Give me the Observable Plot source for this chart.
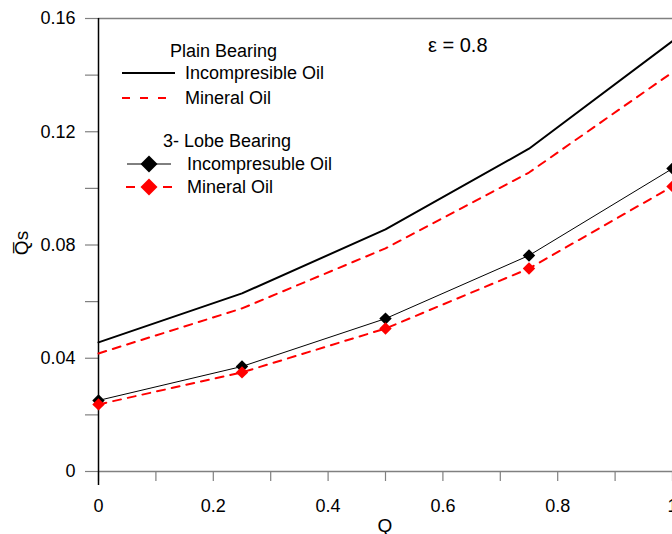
<!DOCTYPE html>
<html><head><meta charset="utf-8">
<script src="https://cdn.jsdelivr.net/npm/d3@7"></script>
<script src="https://cdn.jsdelivr.net/npm/@observablehq/plot@0.6"></script>
<style>
body{margin:0;background:#fff;}
svg{font-family:"Liberation Sans",Arial,sans-serif;}
</style>
</head><body><div id="chart"></div>
<script>
const qValues = [0, 0.25, 0.5, 0.75, 1];
const plainIncompressible = [0.0456, 0.0629, 0.0855, 0.114, 0.152];
const plainMineral = [0.0417, 0.0576, 0.0788, 0.1056, 0.141];
const lobeIncompressible = [0.0251, 0.0371, 0.054, 0.0763, 0.107];
const lobeMineral = [0.0237, 0.035, 0.0505, 0.0717, 0.1007];
const xTicks = [0, 0.1, 0.2, 0.3, 0.4, 0.5, 0.6, 0.7, 0.8, 0.9, 1];
const xTickLabels = ["0", "", "0.2", "", "0.4", "", "0.6", "", "0.8", "", "1"];
const yTicks = [0, 0.02, 0.04, 0.06, 0.08, 0.1, 0.12, 0.14, 0.16];
const yTickLabels = ["0", "", "0.04", "", "0.08", "", "0.12", "", "0.16"];
const seriesNames = ["Plain Incompressible", "Plain Mineral", "3-Lobe Incompressible", "3-Lobe Mineral"];

const table = (vals, name) => qValues.map((q, i) => ({q, v: vals[i], name}));
const pI = table(plainIncompressible, seriesNames[0]);
const pM = table(plainMineral, seriesNames[1]);
const lI = table(lobeIncompressible, seriesNames[2]);
const lM = table(lobeMineral, seriesNames[3]);

const gray = "#808080";
const red = "#ff0000";

const chart = Plot.plot({
  width: 672, height: 534,
  marginLeft: 98, marginRight: 0, marginTop: 18, marginBottom: 63,
  x: {domain: [0, 1]},
  y: {domain: [0, 0.16]},
  style: {fontFamily: '"Liberation Sans", Arial, sans-serif', fontSize: "18px", background: "white", overflow: "visible"},
  marks: [
    Plot.ruleY([0, 0.16], {stroke: gray, strokeWidth: 1.5}),
    Plot.axisY({ticks: yTicks, tickSize: 13, tickPadding: 10, stroke: gray, strokeWidth: 1.2, fill: "black", fontSize: 18,
      tickFormat: (d) => yTickLabels[yTicks.findIndex(t => Math.abs(t - d) < 1e-9)], label: null}),
    Plot.axisX({ticks: xTicks, tickSize: 10, tickPadding: 18, stroke: gray, strokeWidth: 1.2, fill: "black", fontSize: 18,
      tickFormat: (d) => xTickLabels[xTicks.findIndex(t => Math.abs(t - d) < 1e-9)], label: null}),
    Plot.ruleX([0], {stroke: "black", strokeWidth: 1.5, insetBottom: -14}),
    Plot.line(pI, {x: "q", y: "v", stroke: "black", strokeWidth: 2}),
    Plot.line(pM, {x: "q", y: "v", stroke: red, strokeWidth: 2, strokeDasharray: "8,7"}),
    Plot.line(lI, {x: "q", y: "v", stroke: "black", strokeWidth: 1}),
    Plot.line(lM, {x: "q", y: "v", stroke: red, strokeWidth: 2, strokeDasharray: "8,7"}),
    Plot.dot(lI, {x: "q", y: "v", symbol: "diamond2", r: 5.6, fill: "black", stroke: "none"}),
    Plot.dot(lM, {x: "q", y: "v", symbol: "diamond2", r: 5.6, fill: red, stroke: "none"})
  ]
});
document.getElementById("chart").appendChild(chart);

const svg = d3.select(chart);
const g = svg.append("g").attr("font-size", 18).attr("fill", "black").attr("text-anchor", "start");
function txt(x, y, s) {
  return g.append("text").attr("x", x).attr("y", y).attr("dy", "0.35em").attr("text-anchor", "start").text(s);
}
function diamond(cx, cy, half, color) {
  g.append("path").attr("d", `M${cx},${cy - half}L${cx + half},${cy}L${cx},${cy + half}L${cx - half},${cy}Z`).attr("fill", color);
}
// Y label
g.append("text").attr("transform", "translate(21,243) rotate(-90)").attr("text-anchor", "middle").attr("dy", "0.35em").attr("font-size", 19).text("Q\u0305s");
// X label
g.append("text").attr("x", 385).attr("y", 525).attr("text-anchor", "middle").attr("dy", "0.35em").attr("font-size", 19).text("Q");
// epsilon
txt(428, 45, "\u03b5 = 0.8").attr("font-size", 20);
// legend
txt(170, 51, "Plain Bearing");
g.append("line").attr("x1", 122).attr("x2", 175).attr("y1", 73).attr("y2", 73).attr("stroke", "black").attr("stroke-width", 2);
txt(185, 73, "Incompresible Oil");
g.append("line").attr("x1", 122).attr("x2", 168).attr("y1", 98).attr("y2", 98).attr("stroke", red).attr("stroke-width", 2).attr("stroke-dasharray", "8,10");
txt(185, 98, "Mineral Oil");
txt(163, 141, "3- Lobe Bearing");
g.append("line").attr("x1", 127).attr("x2", 171).attr("y1", 164).attr("y2", 164).attr("stroke", "black").attr("stroke-width", 1);
diamond(149, 164, 8.5, "black");
txt(187, 164, "Incompresuble Oil");
g.append("line").attr("x1", 126).attr("x2", 135).attr("y1", 187).attr("y2", 187).attr("stroke", red).attr("stroke-width", 2);
g.append("line").attr("x1", 163).attr("x2", 172).attr("y1", 187).attr("y2", 187).attr("stroke", red).attr("stroke-width", 2);
diamond(149, 187, 8.5, red);
txt(187, 187, "Mineral Oil");
</script>
</body></html>
